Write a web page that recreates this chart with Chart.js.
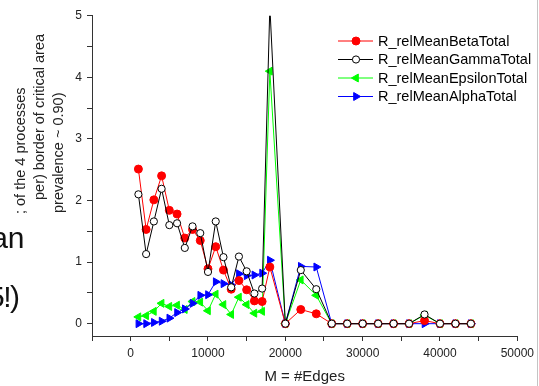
<!DOCTYPE html>
<html lang="en">
<head>
<meta charset="UTF-8">
<title>R_relMean totals vs M = #Edges</title>
<script src="https://cdn.jsdelivr.net/npm/chart.js"></script>
<style>
  body { margin: 0; background: #fff; }
  canvas { display: block; }
</style>
</head>
<body>
<canvas id="relMeanChart" width="539" height="386"></canvas>
<script>
// number of edges M (x values)
const edges = [1000, 2000, 3000, 4000, 5000, 6000, 7000, 8000, 9000, 10000,
               11000, 12000, 13000, 14000, 15000, 16000, 17000, 18000,
               20000, 22000, 24000, 26000, 28000, 30000, 32000, 34000, 36000,
               38000, 40000, 42000, 44000];

// values
const betaTotal    = [2.51, 1.53, 2.01, 2.40, 1.84, 1.78, 1.39, 1.53, 1.35, 0.89,
                      1.25, 0.87, 0.56, 0.70, 0.55, 0.37, 0.36, 0.92,
                      0, 0.23, 0.16, 0, 0, 0, 0, 0, 0, 0.05, 0, 0, 0];
const gammaTotal   = [2.10, 1.13, 1.66, 2.19, 1.60, 1.63, 1.23, 1.58, 1.47, 0.84,
                      1.66, 1.08, 0.59, 1.09, 0.85, 0.49, 0.57, 5.15,
                      0, 0.87, 0.56, 0, 0, 0, 0, 0, 0, 0.15, 0, 0, 0];
const epsilonTotal = [0.11, 0.13, 0.20, 0.33, 0.28, 0.30, 0.23, 0.36, 0.35, 0.21,
                      0.48, 0.31, 0.15, 0.43, 0.31, 0.17, 0.20, 4.10,
                      0, 0.71, 0.46, 0, 0, 0, 0, 0, 0, 0.14, 0, 0, 0];
const alphaTotal   = [0.00, 0.00, 0.02, 0.04, 0.09, 0.18, 0.24, 0.33, 0.46, 0.47,
                      0.68, 0.65, 0.63, 0.81, 0.78, 0.79, 0.82, 1.03,
                      0, 0.93, 0.92, 0, 0, 0, 0, 0, 0, 0, 0, 0, 0];

const seriesNames = ['R_relMeanBetaTotal', 'R_relMeanGammaTotal', 'R_relMeanEpsilonTotal', 'R_relMeanAlphaTotal'];

const xTickValues = [-5000, 0, 5000, 10000, 15000, 20000, 25000, 30000, 35000, 40000, 45000, 50000];
const yTickValues = [0, 0.5, 1, 1.5, 2, 2.5, 3, 3.5, 4, 4.5, 5];

// what is left visible of the cut-off axis title and slide text
const yTitleLines = ['; of the 4 processes', 'per) border of critical area', 'prevalence ~ 0.90)'];
const slideText = ['an', '5!)'];

const FONT = '"Liberation Sans", Arial, sans-serif';

function toPoints(values) {
    return edges.map((x, i) => ({ x: x, y: values[i] }));
}

const datasets = [
    {
        label: seriesNames[0], data: toPoints(betaTotal),
        borderColor: '#ff0000', backgroundColor: '#ff0000',
        pointStyle: 'circle', pointRadius: 4, pointBorderWidth: 1,
        order: 1
    },
    {
        label: seriesNames[1], data: toPoints(gammaTotal),
        borderColor: '#000000', backgroundColor: '#ffffff',
        pointStyle: 'circle', pointRadius: 3.6, pointBorderWidth: 1,
        order: 0
    },
    {
        label: seriesNames[2], data: toPoints(epsilonTotal),
        borderColor: '#00ff00', backgroundColor: '#00ff00',
        pointStyle: 'triangle', pointRotation: 270, pointRadius: 4.6, pointBorderWidth: 1,
        order: 3
    },
    {
        label: seriesNames[3], data: toPoints(alphaTotal),
        borderColor: '#0000ff', backgroundColor: '#0000ff',
        pointStyle: 'triangle', pointRotation: 90, pointRadius: 4.6, pointBorderWidth: 1,
        order: 2
    }
];
datasets.forEach(d => {
    d.borderWidth = 1;
    d.pointBackgroundColor = d.backgroundColor;
    d.pointBorderColor = d.borderColor;
    d.fill = false;
    d.tension = 0;
    d.clip = 0;
});

// legend, rotated axis title and the bits of slide text
const extras = {
    id: 'extras',
    afterDraw(chart) {
        const ctx = chart.ctx;
        ctx.save();

        // legend box in the upper right
        const rowsY = [41, 59.5, 78, 96.5];
        datasets.forEach((d, i) => {
            const y = rowsY[i];
            ctx.strokeStyle = d.borderColor;
            ctx.lineWidth = 1;
            ctx.beginPath();
            ctx.moveTo(338, y);
            ctx.lineTo(373, y);
            ctx.stroke();
            ctx.fillStyle = d.pointBackgroundColor;
            Chart.helpers.drawPoint(ctx, {
                pointStyle: d.pointStyle,
                rotation: d.pointRotation || 0,
                radius: d.pointRadius,
                borderWidth: 1
            }, 356, y);
            ctx.fillStyle = '#000';
            ctx.font = '14.5px ' + FONT;
            ctx.textAlign = 'left';
            ctx.textBaseline = 'middle';
            ctx.fillText(d.label, 378, y + 0.5);
        });

        // y title, rotated
        ctx.fillStyle = '#222';
        ctx.font = '14.5px ' + FONT;
        ctx.textAlign = 'left';
        ctx.textBaseline = 'alphabetic';
        const baseX = [25, 43.5, 62.5];
        const startY = [214, 200, 213];
        yTitleLines.forEach((t, i) => {
            ctx.save();
            ctx.translate(baseX[i], startY[i]);
            ctx.rotate(-Math.PI / 2);
            ctx.fillText(t, 0, 0);
            ctx.restore();
        });

        // slide text peeking in from the left
        ctx.fillStyle = '#111';
        ctx.font = '30px ' + FONT;
        ctx.textAlign = 'right';
        ctx.fillText(slideText[0], 24.5, 247.5);
        ctx.letterSpacing = '-1.5px';
        ctx.fillText(slideText[1], 18.5, 306.5);

        // right image border
        ctx.strokeStyle = '#c4c4c4';
        ctx.beginPath();
        ctx.moveTo(537.5, 0);
        ctx.lineTo(537.5, 386);
        ctx.stroke();

        ctx.restore();
    }
};

new Chart(document.getElementById('relMeanChart'), {
    type: 'line',
    data: { datasets: datasets },
    options: {
        responsive: false,
        animation: false,
        layout: { padding: { left: 0, right: 17, top: 15.7, bottom: 0 } },
        plugins: {
            legend: { display: false },
            tooltip: { enabled: false }
        },
        scales: {
            x: {
                type: 'linear',
                min: -5000,
                max: 50000,
                afterFit(scale) { scale.height = 50; },
                afterBuildTicks(scale) { scale.ticks = xTickValues.map(v => ({ value: v })); },
                border: { display: true, color: '#333', width: 1 },
                grid: { display: true, drawOnChartArea: false, drawTicks: true, tickLength: 5, color: '#333' },
                ticks: {
                    autoSkip: false,
                    maxRotation: 0,
                    padding: 5,
                    color: '#222',
                    font: { family: FONT, size: 12 },
                    callback: v => (v >= 0 && v % 10000 === 0) ? String(v) : ''
                },
                title: {
                    display: true,
                    text: 'M = #Edges',
                    color: '#222',
                    font: { family: FONT, size: 15 },
                    padding: { top: 0, bottom: 0 }
                }
            },
            y: {
                type: 'linear',
                min: -0.2,
                max: 5,
                afterFit(scale) { scale.width = 92; },
                afterBuildTicks(scale) { scale.ticks = yTickValues.map(v => ({ value: v })); },
                border: { display: true, color: '#333', width: 1 },
                grid: { display: true, drawOnChartArea: false, drawTicks: true, tickLength: 5, color: '#333' },
                ticks: {
                    padding: 5,
                    color: '#222',
                    font: { family: FONT, size: 12 },
                    callback: v => Number.isInteger(v) ? String(v) : ''
                }
            }
        }
    },
    plugins: [extras]
});
</script>
</body>
</html>
